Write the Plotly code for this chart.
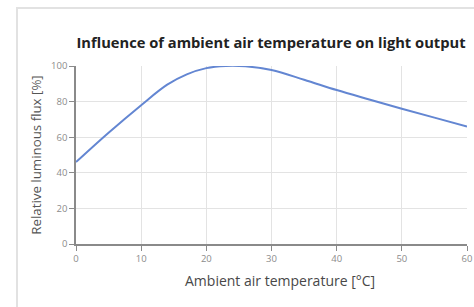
import plotly.graph_objects as go

temperature = [0, 5, 10, 14, 17, 20, 23, 26, 30, 35, 40, 45, 50, 55, 60]
luminous_flux = [46, 62.5, 78, 89.5, 95.3, 98.8, 100, 99.8, 97.7, 92.3, 86.5, 81.2, 76, 71, 66]

x_ticks = [0, 10, 20, 30, 40, 50, 60]
y_ticks = [0, 20, 40, 60, 80, 100]
x_title = "Ambient air temperature [°C]"
y_title = "Relative luminous flux [%]"
chart_title = "Influence of ambient air temperature on light output"

W, H = 474, 307
L, R, T, B = 76, 7, 66, 63
pw, ph = W - L - R, H - T - B

def px(xp):
    return (xp - L) / pw

def py(yp):
    return (H - B - yp) / ph

fig = go.Figure()
fig.add_trace(go.Scatter(
    x=temperature, y=luminous_flux, mode="lines",
    line=dict(color="#6386d2", width=2, shape="spline", smoothing=1.0),
    hoverinfo="skip", showlegend=False,
))

axis_common = dict(
    showgrid=True, gridcolor="#e3e3e3", gridwidth=1,
    showline=True, linecolor="#8a8a8a", linewidth=1.5,
    ticks="outside", ticklen=5, tickcolor="#8a8a8a",
    tickfont=dict(family="Open Sans, sans-serif", size=9.5, color="#8c8c8c"),
    zeroline=False, fixedrange=True, automargin=False,
)

fig.update_xaxes(range=[0, 60], tickvals=x_ticks, ticklabeloverflow="allow", **axis_common)
fig.update_yaxes(
    range=[0, 100], tickvals=y_ticks,
    title=dict(text=y_title, standoff=6,
               font=dict(family="Open Sans, sans-serif", size=13.3, color="#555555")),
    **axis_common,
)

fig.update_layout(
    width=W, height=H,
    margin=dict(l=L, r=R, t=T, b=B),
    paper_bgcolor="white", plot_bgcolor="white",
    title=dict(
        text="<b>" + chart_title + "</b>",
        x=271 / W, xanchor="center",
        y=1 - 43 / H, yanchor="middle",
        font=dict(family="Open Sans, sans-serif", size=14.7, color="#222222"),
    ),
    annotations=[dict(
        text=x_title, xref="paper", yref="paper",
        x=px(280), y=py(280), xanchor="center", yanchor="middle",
        showarrow=False,
        font=dict(family="Open Sans, sans-serif", size=14, color="#484848"),
    )],
    shapes=[dict(
        type="rect", xref="paper", yref="paper",
        x0=px(17), x1=px(490), y0=py(330), y1=py(8),
        line=dict(color="#e2e2e2", width=2), fillcolor="rgba(0,0,0,0)", layer="below",
    )],
)

fig.write_html("out.html", config={"displayModeBar": False},
               post_script="document.body.style.margin='0';")
